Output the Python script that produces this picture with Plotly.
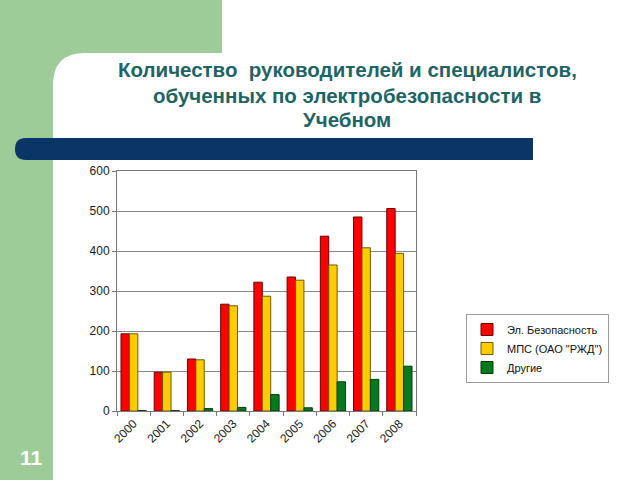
import plotly.graph_objects as go

years = ["2000", "2001", "2002", "2003", "2004", "2005", "2006", "2007", "2008"]
el_bez = [193, 97, 130, 267, 322, 335, 437, 485, 506]
mps = [193, 97, 128, 263, 287, 327, 365, 408, 394]
drugie = [1, 1, 6, 9, 41, 8, 73, 79, 112]
series_names = ["Эл. Безопасность", "МПС (ОАО \"РЖД\")", "Другие"]
y_ticks = [0, 100, 200, 300, 400, 500, 600]
title_lines = ["Количество  руководителей и специалистов,",
               "обученных по электробезопасности в", "Учебном"]

# plot area in pixels
L, R, T, B = 117, 416, 171, 411
W, H = 640, 480


def px(x):
    return (x - L) / (R - L)


def py(y):
    return (B - y) / (B - T)


fig = go.Figure()
colors = ["#ff0000", "#ffcc00", "#087a1e"]
lines = ["#6a0000", "#6b5a00", "#023a0c"]
for name, vals, c, lc in zip(series_names, [el_bez, mps, drugie], colors, lines):
    fig.add_trace(go.Bar(x=years, y=vals, name=name,
                         marker=dict(color=c, line=dict(color=lc, width=1))))

shapes = []
# green background strip
shapes.append(dict(type="rect", xref="paper", yref="paper", layer="below",
                   x0=px(0), x1=px(222), y0=py(0), y1=py(H),
                   fillcolor="#9dcc98", line=dict(width=0)))
# white rounded panel
r = 32
x0, y0 = 53, 53
path = (f"M {px(x0)},{py(H)} L {px(x0)},{py(y0 + r)} "
        f"Q {px(x0)},{py(y0)} {px(x0 + r)},{py(y0)} "
        f"L {px(W)},{py(y0)} L {px(W)},{py(H)} Z")
shapes.append(dict(type="path", xref="paper", yref="paper", layer="below",
                   path=path, fillcolor="white", line=dict(width=0)))
# navy bar with rounded left end
bx0, bx1, by0, by1 = 15, 533, 138, 160
rr = 11
path2 = (f"M {px(bx0 + rr)},{py(by0)} L {px(bx1)},{py(by0)} L {px(bx1)},{py(by1)} "
         f"L {px(bx0 + rr)},{py(by1)} "
         f"Q {px(bx0)},{py(by1)} {px(bx0)},{py((by0 + by1) / 2)} "
         f"Q {px(bx0)},{py(by0)} {px(bx0 + rr)},{py(by0)} Z")
shapes.append(dict(type="path", xref="paper", yref="paper", layer="below",
                   path=path2, fillcolor="#0a3566", line=dict(width=0)))

annotations = []
for line_text, ly in zip(title_lines, [70, 95, 119]):
    annotations.append(dict(xref="paper", yref="paper", x=px(347), y=py(ly),
                            xanchor="center", yanchor="middle",
                            text="<b>" + line_text + "</b>", showarrow=False,
                            font=dict(family="Arial", size=20.5, color="#1f6464")))
annotations.append(dict(xref="paper", yref="paper", x=px(31), y=py(457),
                        xanchor="center", yanchor="middle",
                        text="<b>11</b>", showarrow=False,
                        font=dict(family="Arial", size=21, color="white")))

fig.update_layout(
    width=W, height=H,
    margin=dict(l=L, r=W - R, t=T, b=H - B, pad=0),
    paper_bgcolor="white", plot_bgcolor="rgba(0,0,0,0)",
    barmode="group", bargap=0.24, bargroupgap=0,
    font=dict(family="Arial", size=12, color="#1a1a1a"),
    shapes=shapes, annotations=annotations,
    showlegend=True,
    legend=dict(x=px(466), y=py(314), xanchor="left", yanchor="top",
                bgcolor="white", bordercolor="#9a9a9a", borderwidth=1,
                font=dict(family="Arial", size=11, color="#111111"),
                tracegroupgap=0),
    xaxis=dict(type="category", tickangle=-45, tickson="boundaries",
               ticks="outside", ticklen=4, tickcolor="#777777",
               showline=True, linecolor="#777777", mirror=True,
               showgrid=False, tickfont=dict(size=12)),
    yaxis=dict(range=[0, 600], tickvals=y_ticks, ticks="outside", ticklen=4,
               tickcolor="#777777", showline=True, linecolor="#777777", mirror=True,
               showgrid=True, gridcolor="#888888", gridwidth=1, zeroline=False,
               tickfont=dict(size=12)),
)

fig.write_html("out.html")
